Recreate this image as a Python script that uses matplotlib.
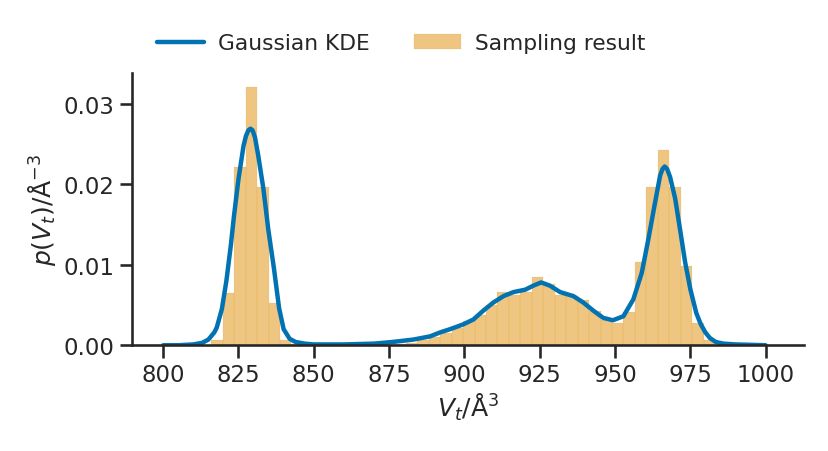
import matplotlib
matplotlib.use("Agg")
import matplotlib.pyplot as plt
import numpy as np
import seaborn as sns

# histogram of sampled volumes (density), equal-width bins
bin_start = 816.0
bin_width = 3.80
hist_density = [
    0.0007, 0.0065, 0.0221, 0.0321, 0.0196, 0.0052, 0.0007, 0.0001,
    0.0, 0.0, 0.0, 0.0, 0.0, 0.0, 0.0001, 0.0001,
    0.0002, 0.0003, 0.0006, 0.0010, 0.0015, 0.0021, 0.0030, 0.0038,
    0.0050, 0.0066, 0.0063, 0.0066, 0.0085, 0.0076, 0.0063, 0.0061,
    0.0056, 0.0043, 0.0031, 0.0028, 0.0041, 0.0103, 0.0197, 0.0243,
    0.0197, 0.0099, 0.0028, 0.0006,
]

# Gaussian KDE curve
kde_x = [
    800, 805, 810, 813, 815, 817, 817.8, 819.5, 821, 822.5, 823.5, 825,
    826.7, 827.5, 828.3, 829, 829.7, 830.5, 831.6, 833.3, 834.9, 836.8,
    838.5, 840, 842, 844, 847, 850, 860, 870, 876, 883, 888.6, 892, 895.3,
    899.7, 903, 906.3, 909.6, 913, 916.3, 920.2, 922.9, 925.5, 928.4,
    931.8, 936.2, 939.5, 942.8, 946.1, 949.3, 952.8, 956.1, 958.9, 961.1,
    963.3, 965, 965.8, 966.5, 967.3, 968.3, 970, 971.6, 973.3, 975, 977,
    978.5, 980, 981.5, 983.5, 986, 990, 1000,
]
kde_y = [
    0.0, 0.0, 0.0001, 0.0003, 0.0007, 0.0016, 0.0022, 0.0045, 0.0080,
    0.0125, 0.0160, 0.0206, 0.0248, 0.0260, 0.0267, 0.0269, 0.0267,
    0.0258, 0.0235, 0.0194, 0.0144, 0.0095, 0.0046, 0.0020, 0.0008,
    0.0004, 0.0002, 0.0001, 0.0001, 0.0002, 0.0004, 0.0007, 0.0011,
    0.0016, 0.0020, 0.0026, 0.0032, 0.0043, 0.0053, 0.0061, 0.0066,
    0.0069, 0.0074, 0.0078, 0.0074, 0.0066, 0.0061, 0.0053, 0.0043,
    0.0034, 0.0031, 0.0036, 0.0057, 0.0090, 0.0132, 0.0177, 0.0211,
    0.0219, 0.0222, 0.0219, 0.0209, 0.0182, 0.0144, 0.0103, 0.0070,
    0.0040, 0.0026, 0.0016, 0.0009, 0.0004, 0.0002, 0.0001, 0.0,
]

x_ticks = [800, 825, 850, 875, 900, 925, 950, 975, 1000]
y_ticks = [0.00, 0.01, 0.02, 0.03]

sns.set_context("talk")
sns.set_style("ticks")

fig = plt.figure(figsize=(8.29, 4.52), dpi=100)
ax = fig.add_axes([0.159, 0.234, 0.811, 0.602])

left_edges = bin_start + bin_width * np.arange(len(hist_density))
ax.bar(left_edges, hist_density, width=bin_width, align="edge",
       color="#DE8F05", alpha=0.5, edgecolor="#DE8F05", linewidth=0.15,
       label="Sampling result")
ax.plot(kde_x, kde_y, color="#0173B2", lw=3.2, label="Gaussian KDE",
        solid_joinstyle="round")

ax.set_xlim(789.6, 1012.8)
ax.set_ylim(0, 0.0338)
ax.set_xticks(x_ticks)
ax.set_yticks(y_ticks)
ax.set_yticklabels([f"{v:.2f}" for v in y_ticks])
ax.set_xlabel(r"$V_t$/Å$^3$")
ax.set_ylabel(r"$p(V_t)$/Å$^{-3}$")
sns.despine(ax=ax)

handles, labels = ax.get_legend_handles_labels()
fig.legend(handles, labels, loc="center", ncol=2, frameon=False,
           fontsize=15.7, handlelength=2.15, handletextpad=0.65,
           columnspacing=2.0, bbox_to_anchor=(0.484, 0.902))

fig.savefig("out.png", dpi=100)
